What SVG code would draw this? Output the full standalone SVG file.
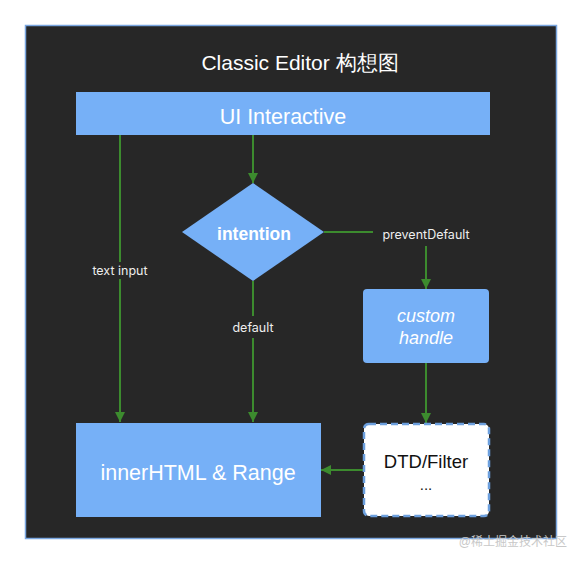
<svg xmlns="http://www.w3.org/2000/svg" width="582" height="564" viewBox="0 0 582 564">
<defs>
<marker id="ah" viewBox="0 0 10 10" refX="10" refY="5" markerWidth="10" markerHeight="10" markerUnits="userSpaceOnUse" orient="auto">
<path d="M0,0 L10,5 L0,10 Z" fill="#3c8b2e"/>
</marker>
<style>
.box{fill:#76b0f7}
.edge{stroke:#3c8b2e;stroke-width:2;fill:none}
.wt{fill:#ffffff;font-family:"Liberation Sans",Arial,sans-serif;text-anchor:middle;dominant-baseline:central}
.lbl{fill:#eeeeee;font-family:Inter,"Liberation Sans",sans-serif;font-size:12.5px;text-anchor:middle;dominant-baseline:central}
</style>
</defs>
<rect width="582" height="564" fill="#ffffff"/>
<rect x="25.5" y="25.5" width="531" height="513" fill="#272727" stroke="#7aa6e0" stroke-width="1.5"/>
<text class="wt" x="300" y="62" font-size="21" font-family="'Liberation Sans','Noto Sans CJK SC',sans-serif">Classic Editor 构想图</text>

<g id="connectors">
<line class="edge" x1="120" y1="135" x2="120" y2="262"/>
<line class="edge" x1="120" y1="279" x2="120" y2="422" marker-end="url(#ah)"/>
<line class="edge" x1="253" y1="135" x2="253" y2="183" marker-end="url(#ah)"/>
<line class="edge" x1="253" y1="281" x2="253" y2="316"/>
<line class="edge" x1="253" y1="338" x2="253" y2="422" marker-end="url(#ah)"/>
<line class="edge" x1="324" y1="232" x2="373" y2="232"/>
<line class="edge" x1="426" y1="246" x2="426" y2="289" marker-end="url(#ah)"/>
<line class="edge" x1="426" y1="363" x2="426" y2="423" marker-end="url(#ah)"/>
<line class="edge" x1="363" y1="470" x2="321" y2="470" marker-end="url(#ah)"/>
<text class="lbl" x="120" y="270">text input</text>
<text class="lbl" x="253" y="327">default</text>
<text class="lbl" x="426" y="234">preventDefault</text>
</g>

<g id="ui-interactive">
<rect class="box" x="76" y="92" width="414" height="43"/>
<text class="wt" x="283" y="117" font-size="21.5">UI Interactive</text>
</g>

<g id="intention">
<polygon class="box" points="253,183 324,232 253,281 182,232"/>
<text class="wt" x="254" y="234" font-size="17.5" font-weight="600" font-family="Inter,'Liberation Sans',sans-serif">intention</text>
</g>

<g id="custom-handle">
<rect class="box" x="363" y="289" width="126" height="74" rx="4"/>
<text class="wt" x="426" y="316" font-size="18" font-style="italic">custom</text>
<text class="wt" x="426" y="338" font-size="18" font-style="italic">handle</text>
</g>

<g id="innerhtml-range">
<rect class="box" x="76" y="423" width="245" height="94"/>
<text class="wt" x="198" y="473" font-size="21.5">innerHTML &amp; Range</text>
</g>

<g id="dtd-filter">
<rect x="364" y="424" width="125" height="92" rx="5" fill="#ffffff" stroke="#6c9fdd" stroke-width="2.5" stroke-dasharray="7,4"/>
<text x="426" y="461" font-size="18.5" fill="#111111" font-family="'Liberation Sans',Arial,sans-serif" text-anchor="middle" dominant-baseline="central">DTD/Filter</text>
<text x="426" y="484" font-size="15" fill="#111111" font-family="'Liberation Sans',Arial,sans-serif" text-anchor="middle" dominant-baseline="central">...</text>
</g>

<text x="567" y="542" font-size="12" fill="#c8c8c8" font-family="'Liberation Sans','Noto Sans CJK SC',sans-serif" text-anchor="end" dominant-baseline="central">@稀土掘金技术社区</text>
</svg>
